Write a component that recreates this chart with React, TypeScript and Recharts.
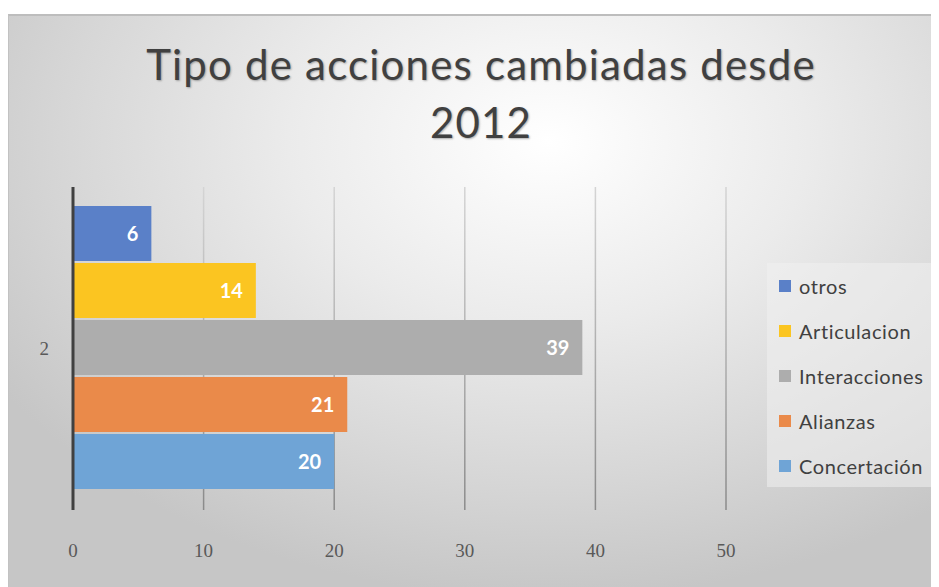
import React from 'react';
import { BarChart, Bar, XAxis, YAxis, CartesianGrid, Legend, LabelList } from 'recharts';

const categories = ['2'];
const otros = [6];
const articulacion = [14];
const interacciones = [39];
const alianzas = [21];
const concertacion = [20];
const xTicks = [0, 10, 20, 30, 40, 50];
const seriesKeys = ['otros', 'Articulacion', 'Interacciones', 'Alianzas', 'Concertación'];
const seriesValues = [otros, articulacion, interacciones, alianzas, concertacion];
const seriesColors = ['#5a80c8', '#fbc521', '#adadad', '#ea8a4a', '#6fa4d6'];
const titleLines = ['Tipo de acciones cambiadas desde', '2012'];

const data = categories.map((c, i) => {
  const row: Record<string, string | number> = { cat: c };
  seriesKeys.forEach((k, j) => {
    row[k] = seriesValues[j][i];
  });
  return row;
});

const renderLegend = (props: any) => {
  const payload = [...(props.payload || [])].sort(
    (a: any, b: any) => seriesKeys.indexOf(a.value) - seriesKeys.indexOf(b.value)
  );
  return (
    <div
      style={{
        width: 172,
        height: 224,
        background: 'rgba(240,240,240,0.55)',
        boxSizing: 'border-box',
        paddingLeft: 12,
        fontFamily: 'Lato, "Open Sans", sans-serif',
        fontSize: 20,
        letterSpacing: 0.6,
        color: '#404040',
        whiteSpace: 'nowrap',
      }}
    >
      {payload.map((p: any) => (
        <div key={p.value} style={{ height: 45, display: 'flex', alignItems: 'center' }}>
          <span style={{ display: 'inline-block', width: 12, height: 12, background: p.color, marginRight: 8 }} />
          <span>{p.value}</span>
        </div>
      ))}
    </div>
  );
};

export default function App() {
  return (
    <div style={{ position: 'relative', width: 931, height: 579, overflow: 'hidden' }}>
      <div
        style={{
          position: 'absolute',
          left: 0,
          top: 6,
          width: 931,
          height: 573,
          boxSizing: 'border-box',
          borderTop: '2px solid #bdbdbd',
          borderLeft: '1px solid #c2c2c2',
          background:
            'radial-gradient(ellipse 70% 80% at 58% 22%, #ffffff 0%, #ebebeb 40%, #d6d6d6 75%, #c6c6c6 100%)',
        }}
      />
      <div
        style={{
          position: 'absolute',
          left: 0,
          top: 27,
          width: 946,
          textAlign: 'center',
          fontFamily: 'Lato, "Open Sans", sans-serif',
          fontSize: 42,
          letterSpacing: 1.2,
          lineHeight: '58px',
          color: '#404040',
          textShadow: '1px 1px 2px rgba(0,0,0,0.3)',
        }}
      >
        {titleLines.map((t) => (
          <div key={t}>{t}</div>
        ))}
      </div>
      <div style={{ position: 'absolute', left: 0, top: 0 }}>
        <BarChart
          width={931}
          height={579}
          data={data}
          layout="vertical"
          margin={{ top: 179, right: 213, bottom: 27, left: 20 }}
          barCategoryGap={19}
          barGap={2}
        >
          <defs>
            <linearGradient id="gridGrad" gradientUnits="userSpaceOnUse" x1="0" y1="179" x2="0" y2="502">
              <stop offset="0%" stopColor="#d4d4d4" />
              <stop offset="100%" stopColor="#8a8a8a" />
            </linearGradient>
          </defs>
          <CartesianGrid horizontal={false} vertical stroke="url(#gridGrad)" strokeWidth={1.5} />
          <XAxis
            type="number"
            domain={[0, 50]}
            ticks={xTicks}
            interval={0}
            tickLine={false}
            axisLine={false}
            tickSize={0}
            tickMargin={34}
            height={50}
            tick={{ fill: '#595959', fontSize: 19, fontFamily: '"Liberation Serif", serif' }}
          />
          <YAxis
            type="category"
            dataKey="cat"
            width={45}
            tickLine={false}
            tickSize={0}
            tickMargin={24}
            axisLine={{ stroke: '#404040', strokeWidth: 3 }}
            tick={{ fill: '#595959', fontSize: 19, fontFamily: '"Liberation Serif", serif' }}
          />
          <Legend
            layout="vertical"
            align="center"
            verticalAlign="middle"
            wrapperStyle={{ left: 759, top: 255, width: 172 }}
            content={renderLegend}
          />
          {seriesKeys.map((k, j) => (
            <Bar key={k} dataKey={k} name={k} fill={seriesColors[j]} isAnimationActive={false}>
              <LabelList
                dataKey={k}
                position="insideRight"
                offset={13}
                fill="#ffffff"
                fontSize={20}
                fontWeight="bold"
                fontFamily='Lato, "Open Sans", sans-serif'
              />
            </Bar>
          ))}
        </BarChart>
      </div>
    </div>
  );
}
